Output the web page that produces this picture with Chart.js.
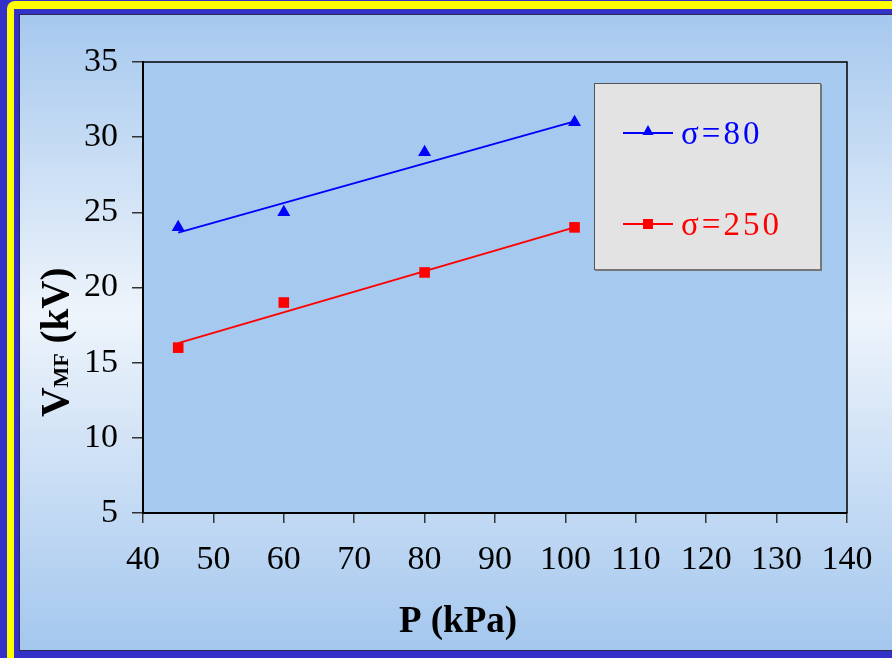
<!DOCTYPE html>
<html>
<head>
<meta charset="utf-8">
<script src="https://cdn.jsdelivr.net/npm/chart.js@4"></script>
<style>
  html, body { margin: 0; padding: 0; background: #3431c9; }
  canvas { display: block; }
</style>
</head>
<body>
<canvas id="vmfChart" width="892" height="658"></canvas>
<script>
// ==========================================
// DATA
// ==========================================
const pressure = [45, 60, 80, 101.3];          // P (kPa)
const vmfSigma80 = [24, 25, 29, 31];           // kV
const vmfSigma250 = [16, 19, 21, 24];          // kV
const trendX = [45, 101.3];
const trendSigma80 = [23.65, 31.05];
const trendSigma250 = [16.3, 24.0];
const seriesLabels = ["σ=80", "σ=250"];
const xTicks = [40, 50, 60, 70, 80, 90, 100, 110, 120, 130, 140];
const yTicks = [5, 10, 15, 20, 25, 30, 35];

const BLUE = "#0000ff";
const RED = "#ff0000";
const SERIF = "'Liberation Serif', 'Times New Roman', serif";

function toPoints(xs, ys) {
  return xs.map((x, i) => ({ x: x, y: ys[i] }));
}

// ==========================================
// FRAME, BACKGROUND, LEGEND, AXIS TITLES
// ==========================================
const slideDecor = {
  id: "slideDecor",
  beforeDraw(chart) {
    const ctx = chart.ctx;
    const W = chart.width, H = chart.height;
    ctx.save();
    // blue outer, yellow band, blue band
    ctx.fillStyle = "#3431c9";
    ctx.fillRect(0, 0, W, H);
    ctx.fillStyle = "#ffff00";
    ctx.beginPath();
    ctx.roundRect(7, 1, W, H + 20, [8, 0, 0, 0]);
    ctx.fill();
    ctx.fillStyle = "#3431c9";
    ctx.fillRect(14, 9, W, H - 9);
    ctx.fillStyle = "#2a2a55";
    ctx.fillRect(19, 14, W, 637);
    // slide gradient
    const g = ctx.createLinearGradient(0, 15, 0, 650);
    g.addColorStop(0, "#a6c8ee");
    g.addColorStop(0.47, "#eef4fb");
    g.addColorStop(1, "#a4c7ee");
    ctx.fillStyle = g;
    ctx.fillRect(20, 15, W, 635);
    // plot area
    const a = chart.chartArea;
    ctx.fillStyle = "#a6c9ef";
    ctx.fillRect(a.left, a.top, a.right - a.left, a.bottom - a.top);
    ctx.restore();
  },
  afterDraw(chart) {
    const ctx = chart.ctx;
    const a = chart.chartArea;
    ctx.save();
    // top and right frame of plot area
    ctx.strokeStyle = "#000";
    ctx.lineWidth = 1.5;
    ctx.beginPath();
    ctx.moveTo(a.left, a.top);
    ctx.lineTo(a.right, a.top);
    ctx.lineTo(a.right, a.bottom);
    ctx.stroke();

    // legend box
    ctx.fillStyle = "#e3e3e3";
    ctx.fillRect(594, 83, 226, 186);
    ctx.strokeStyle = "#555";
    ctx.lineWidth = 1;
    ctx.strokeRect(594.5, 83.5, 226, 186);
    ctx.strokeStyle = "#777";
    ctx.lineWidth = 2;
    ctx.beginPath();
    ctx.moveTo(821, 84);
    ctx.lineTo(821, 270);
    ctx.lineTo(595, 270);
    ctx.stroke();

    const rows = [133, 224];
    chart.data.datasets.slice(0, 2).forEach((ds, i) => {
      const y = rows[i];
      ctx.strokeStyle = ds.borderColor;
      ctx.lineWidth = 2;
      ctx.beginPath();
      ctx.moveTo(623, y);
      ctx.lineTo(673, y);
      ctx.stroke();
      ctx.fillStyle = ds.backgroundColor;
      ctx.beginPath();
      if (ds.pointStyle === "triangle") {
        ctx.moveTo(648, y - 8);
        ctx.lineTo(653.5, y + 2);
        ctx.lineTo(642.5, y + 2);
        ctx.closePath();
      } else {
        ctx.rect(643, y - 5, 10, 10);
      }
      ctx.fill();
      ctx.font = "33px " + SERIF;
      ctx.letterSpacing = "3px";
      ctx.textAlign = "left";
      ctx.textBaseline = "alphabetic";
      ctx.fillText(ds.label, 681, y + 11);
    });
    ctx.letterSpacing = "0px";

    // x axis title
    ctx.fillStyle = "#000";
    ctx.font = "bold 37px " + SERIF;
    ctx.textAlign = "center";
    ctx.textBaseline = "alphabetic";
    ctx.fillText("P (kPa)", 458, 632);

    // y axis title with subscript
    ctx.save();
    ctx.translate(68, 417);
    ctx.rotate(-Math.PI / 2);
    ctx.textAlign = "left";
    ctx.font = "bold 41px " + SERIF;
    ctx.fillText("V", 0, 0);
    let w = ctx.measureText("V").width;
    ctx.font = "bold 22px " + SERIF;
    ctx.fillText("MF", w, 0);
    w += ctx.measureText("MF").width;
    ctx.font = "bold 39px " + SERIF;
    ctx.fillText(" (kV)", w, 0);
    ctx.restore();

    ctx.restore();
  }
};

// ==========================================
// CHART
// ==========================================
const ctx = document.getElementById("vmfChart").getContext("2d");

new Chart(ctx, {
  type: "scatter",
  data: {
    datasets: [
      {
        label: seriesLabels[0],
        data: toPoints(pressure, vmfSigma80),
        borderColor: BLUE,
        backgroundColor: BLUE,
        pointStyle: "triangle",
        pointRadius: 7.5,
        pointHoverRadius: 7.5,
        borderWidth: 0,
        showLine: false
      },
      {
        label: seriesLabels[1],
        data: toPoints(pressure, vmfSigma250),
        borderColor: RED,
        backgroundColor: RED,
        pointStyle: "rect",
        pointRadius: 7.5,
        pointHoverRadius: 7.5,
        borderWidth: 0,
        showLine: false
      },
      {
        label: "trend σ=80",
        data: toPoints(trendX, trendSigma80),
        borderColor: BLUE,
        borderWidth: 2,
        pointRadius: 0,
        showLine: true
      },
      {
        label: "trend σ=250",
        data: toPoints(trendX, trendSigma250),
        borderColor: RED,
        borderWidth: 2,
        pointRadius: 0,
        showLine: true
      }
    ]
  },
  options: {
    responsive: false,
    animation: false,
    devicePixelRatio: 1,
    layout: { padding: { top: 62, right: 45, left: 0, bottom: 0 } },
    plugins: {
      legend: { display: false },
      tooltip: { enabled: false }
    },
    scales: {
      x: {
        type: "linear",
        min: xTicks[0],
        max: xTicks[xTicks.length - 1],
        afterBuildTicks: (scale) => { scale.ticks = xTicks.map(v => ({ value: v })); },
        afterFit: (scale) => { scale.height = 145; },
        grid: { drawOnChartArea: false, drawTicks: true, tickLength: 10, color: "#333", lineWidth: 1.5 },
        border: { display: true, color: "#000", width: 2 },
        ticks: { color: "#000", padding: 17, font: { family: SERIF, size: 34 }, maxRotation: 0, autoSkip: false }
      },
      y: {
        type: "linear",
        min: yTicks[0],
        max: yTicks[yTicks.length - 1],
        afterBuildTicks: (scale) => { scale.ticks = yTicks.map(v => ({ value: v })); },
        afterFit: (scale) => { scale.width = 143; },
        grid: { drawOnChartArea: false, drawTicks: true, tickLength: 11, color: "#333", lineWidth: 1.5 },
        border: { display: true, color: "#000", width: 2 },
        ticks: { color: "#000", padding: 14, font: { family: SERIF, size: 34 }, autoSkip: false }
      }
    }
  },
  plugins: [slideDecor]
});
</script>
</body>
</html>
